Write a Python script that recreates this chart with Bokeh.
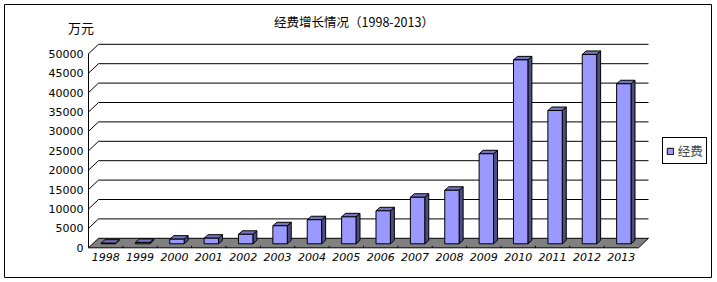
from bokeh.plotting import figure
from bokeh.models import (Range1d, FixedTicker, Label, BoxAnnotation, Legend,
                          LegendItem, ColumnDataSource)
from bokeh.embed import file_html
from bokeh.resources import INLINE

# ---------------- data ----------------
years = ["1998", "1999", "2000", "2001", "2002", "2003", "2004", "2005",
         "2006", "2007", "2008", "2009", "2010", "2011", "2012", "2013"]
funds = [150, 350, 1200, 1450, 2450, 4650, 6200, 6950,
         8500, 12000, 13800, 23200, 47400, 34350, 48800, 41250]
y_ticks = [0, 5000, 10000, 15000, 20000, 25000, 30000, 35000, 40000, 45000, 50000]
title_text = "经费增长情况（1998-2013）"
unit_text = "万元"
series_name = "经费"

# ---------------- layout constants (pixels) ----------------
W, H = 717, 282
X0 = 88.0                              # pixel column of the value axis (front plane)
Y0 = 247.3                             # pixel row of value 0 on the front plane
n = len(years)
UX = 550.0 / n                         # px per category
K = 194.0 / 50000                      # px per value unit

def dx(px):
    return px / UX

def dy(px):
    return px / K

def px2x(px):
    return (px - X0) / UX

def px2y(py):
    return (Y0 - py) / K

DX, DY = dx(10), dy(9.5)               # depth of the back wall
BO, BW = dx(2.5), dx(14.4)             # bar offset / width
B0 = dy(4)                             # bar base above front floor edge
SX, SY = dx(4), dy(3.5)                # bar depth

FRONT = "#9999FF"
SIDE = "#4D4D80"
TOP = "#7373BF"
FLOOR = "#808080"

p = figure(width=W, height=H,
           x_range=Range1d(px2x(0), px2x(W)),
           y_range=Range1d(px2y(H), px2y(0)),
           output_backend="svg", toolbar_location=None, min_border=0)
p.outline_line_color = None
p.background_fill_color = "white"
p.border_fill_color = "white"
p.xgrid.visible = False
p.ygrid.visible = False

# ---------------- y axis ----------------
ya = p.yaxis[0]
ya.fixed_location = 0
ya.ticker = FixedTicker(ticks=y_ticks)
ya.bounds = (0, 50000)
ya.axis_line_color = "black"
ya.major_tick_in = 0
ya.major_tick_out = 0
ya.minor_tick_line_color = None
ya.major_label_standoff = 5
ya.major_label_text_font = "DejaVu Sans"
ya.major_label_text_font_size = "11px"
ya.major_label_text_color = "black"

# ---------------- x axis ----------------
xa = p.xaxis[0]
xa.fixed_location = px2y(249)
centers = [i + 0.5 for i in range(n)]
xa.ticker = FixedTicker(ticks=centers)
xa.major_label_overrides = {c: y for c, y in zip(centers, years)}
xa.axis_line_color = None
xa.major_tick_in = 0
xa.major_tick_out = 0
xa.minor_tick_line_color = None
xa.major_label_standoff = 3
xa.major_label_text_font = "DejaVu Sans"
xa.major_label_text_font_style = "italic"
xa.major_label_text_font_size = "11px"
xa.major_label_text_color = "black"

# ---------------- floor, walls, grid ----------------
p.patch(x=[0, n, n + DX, DX], y=[0, 0, DY, DY],
        fill_color=FLOOR, line_color="black", line_width=1)
gt = y_ticks[1:]
p.segment(x0=[DX] * len(gt), y0=[t + DY for t in gt],
          x1=[n + DX] * len(gt), y1=[t + DY for t in gt],
          line_color="black", line_width=1)
p.segment(x0=[0] * len(gt), y0=gt, x1=[DX] * len(gt), y1=[t + DY for t in gt],
          line_color="black", line_width=1)
p.segment(x0=list(range(1, n)), y0=[0] * (n - 1),
          x1=list(range(1, n)), y1=[dy(2)] * (n - 1),
          line_color="black", line_width=1)

# ---------------- 3D bars ----------------
left = [i + 0.5 - BW / 2 + BO for i in range(n)]
right = [l + BW for l in left]
bottom = [B0] * n
top = [B0 + v for v in funds]

side_xs = [[r, r + SX, r + SX, r] for r in right]
side_ys = [[b, b + SY, t + SY, t] for b, t in zip(bottom, top)]
top_xs = [[l, r, r + SX, l + SX] for l, r in zip(left, right)]
top_ys = [[t, t, t + SY, t + SY] for t in top]

p.patches(xs=side_xs, ys=side_ys, fill_color=SIDE, line_color="black", line_width=1)
p.patches(xs=top_xs, ys=top_ys, fill_color=TOP, line_color="black", line_width=1)
src = ColumnDataSource(dict(left=left, right=right, bottom=bottom, top=top))
front = p.quad(left="left", right="right", bottom="bottom", top="top", source=src,
               fill_color=FRONT, line_color="black", line_width=1)

# ---------------- texts ----------------
p.add_layout(Label(x=px2x(353.5), y=px2y(21), text=title_text,
                   text_font="Noto Sans CJK SC", text_font_size="12.5px",
                   text_color="black", text_align="center", text_baseline="middle"))
p.add_layout(Label(x=px2x(80.5), y=px2y(27), text=unit_text,
                   text_font="Noto Sans CJK SC", text_font_size="13px",
                   text_color="black", text_align="center", text_baseline="middle"))

# ---------------- legend ----------------
legend = Legend(items=[LegendItem(label=series_name, renderers=[front])],
                location=(661.7, H - 164),
                orientation="vertical",
                glyph_width=8, glyph_height=8, label_width=10, label_height=8,
                padding=3, spacing=0, margin=0, label_standoff=4,
                label_text_font="Noto Sans CJK SC", label_text_font_size="12.5px",
                label_text_line_height=1.0,
                border_line_color="black", border_line_width=1, border_line_alpha=1.0,
                background_fill_color="white", background_fill_alpha=1.0)
p.add_layout(legend)

# ---------------- outer border ----------------
p.add_layout(BoxAnnotation(left=px2x(4), right=px2x(711),
                           top=px2y(4), bottom=px2y(277),
                           fill_alpha=0, line_color="black", line_alpha=1.0,
                           line_width=1, level="overlay"))

with open("out.html", "w") as f:
    f.write(file_html(p, INLINE))
